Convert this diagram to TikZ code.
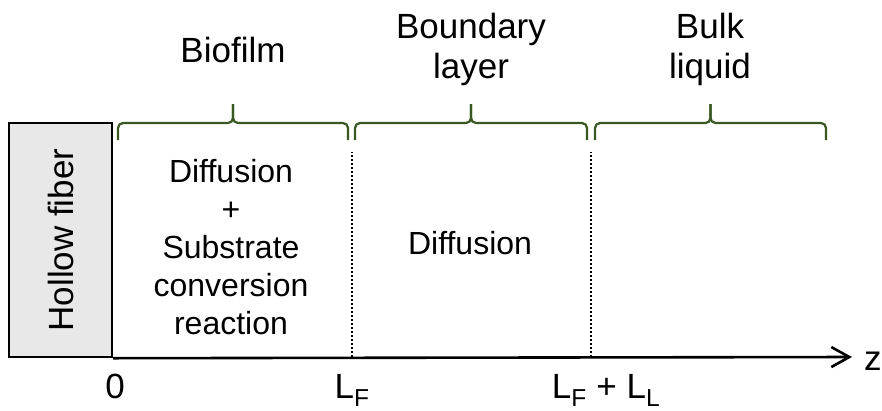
\documentclass[tikz,border=0pt]{standalone}
\usepackage{fontspec}
\setmainfont{Liberation Sans}
\usetikzlibrary{arrows.meta}
\definecolor{bracegreen}{RGB}{56,87,35}
\definecolor{fibergray}{RGB}{232,232,232}

\begin{document}
\begin{tikzpicture}[
  x=1pt, y=-1pt,
  fiberbox/.style={rectangle, draw, line width=2.4pt, fill=fibergray, minimum width=103pt, minimum height=234pt, inner sep=0pt},
  regionbrace/.style={draw=bracegreen, line width=2.2pt, rounded corners=5pt},
  boundline/.style={line width=2pt, dash pattern=on 2pt off 2pt},
  zaxis/.style={line width=2.6pt, -{Straight Barb[length=18pt, width=20pt, line width=2.6pt]}},
  toplabel/.style={align=center, font=\fontsize{35}{40}\selectfont},
  inlabel/.style={align=center, font=\fontsize{32}{38}\selectfont},
  axislabel/.style={anchor=base, font=\fontsize{35}{40}\selectfont}
]
\useasboundingbox (0,0) rectangle (882,410);

% Hollow fiber
\node[fiberbox] (fiber) at (60.5,240) {};
\node[rotate=90, font=\fontsize{35}{40}\selectfont] (fibertext) at (fiber.center) {Hollow fiber};

% Axis
\coordinate (zend) at (852,357);
\draw[zaxis] (fiber.south east) -- (zend);
\node[anchor=base west, font=\fontsize{35}{40}\selectfont, inner sep=0pt] (zlabel) at (864,370) {z};

% Region boundaries
\coordinate (lf) at (352,357);
\coordinate (lfll) at (591,357);
\draw[boundline] (lf) -- ++(0,-205);
\draw[boundline] (lfll) -- ++(0,-205);

% Braces
\foreach \a/\b in {118/348, 355/587, 595/826} {
  \draw[regionbrace] (\a,140) -- (\a,123) -- ({(\a+\b)/2},123) -- ({(\a+\b)/2},104);
  \draw[regionbrace] ({(\a+\b)/2},104) -- ({(\a+\b)/2},123) -- (\b,123) -- (\b,140);
}

% Region names
\node[toplabel, anchor=base] (biofilm) at (233,62) {Biofilm};
\node[toplabel] (boundary) at (471,49) {Boundary\\layer};
\node[toplabel] (bulk) at (710,49) {Bulk\\liquid};

% Processes
\node[inlabel] (biofilmproc) at (231,247) {Diffusion\\+\\Substrate\\conversion\\reaction};
\node[inlabel] (boundaryproc) at (470,243) {Diffusion};

% Positions on z
\node[axislabel] (zero) at (115,398) {0};
\node[axislabel] (lflabel) at (352,398) {L\textsubscript{F}};
\node[axislabel] (lflllabel) at (606,398) {L\textsubscript{F} + L\textsubscript{L}};

\end{tikzpicture}
\end{document}
